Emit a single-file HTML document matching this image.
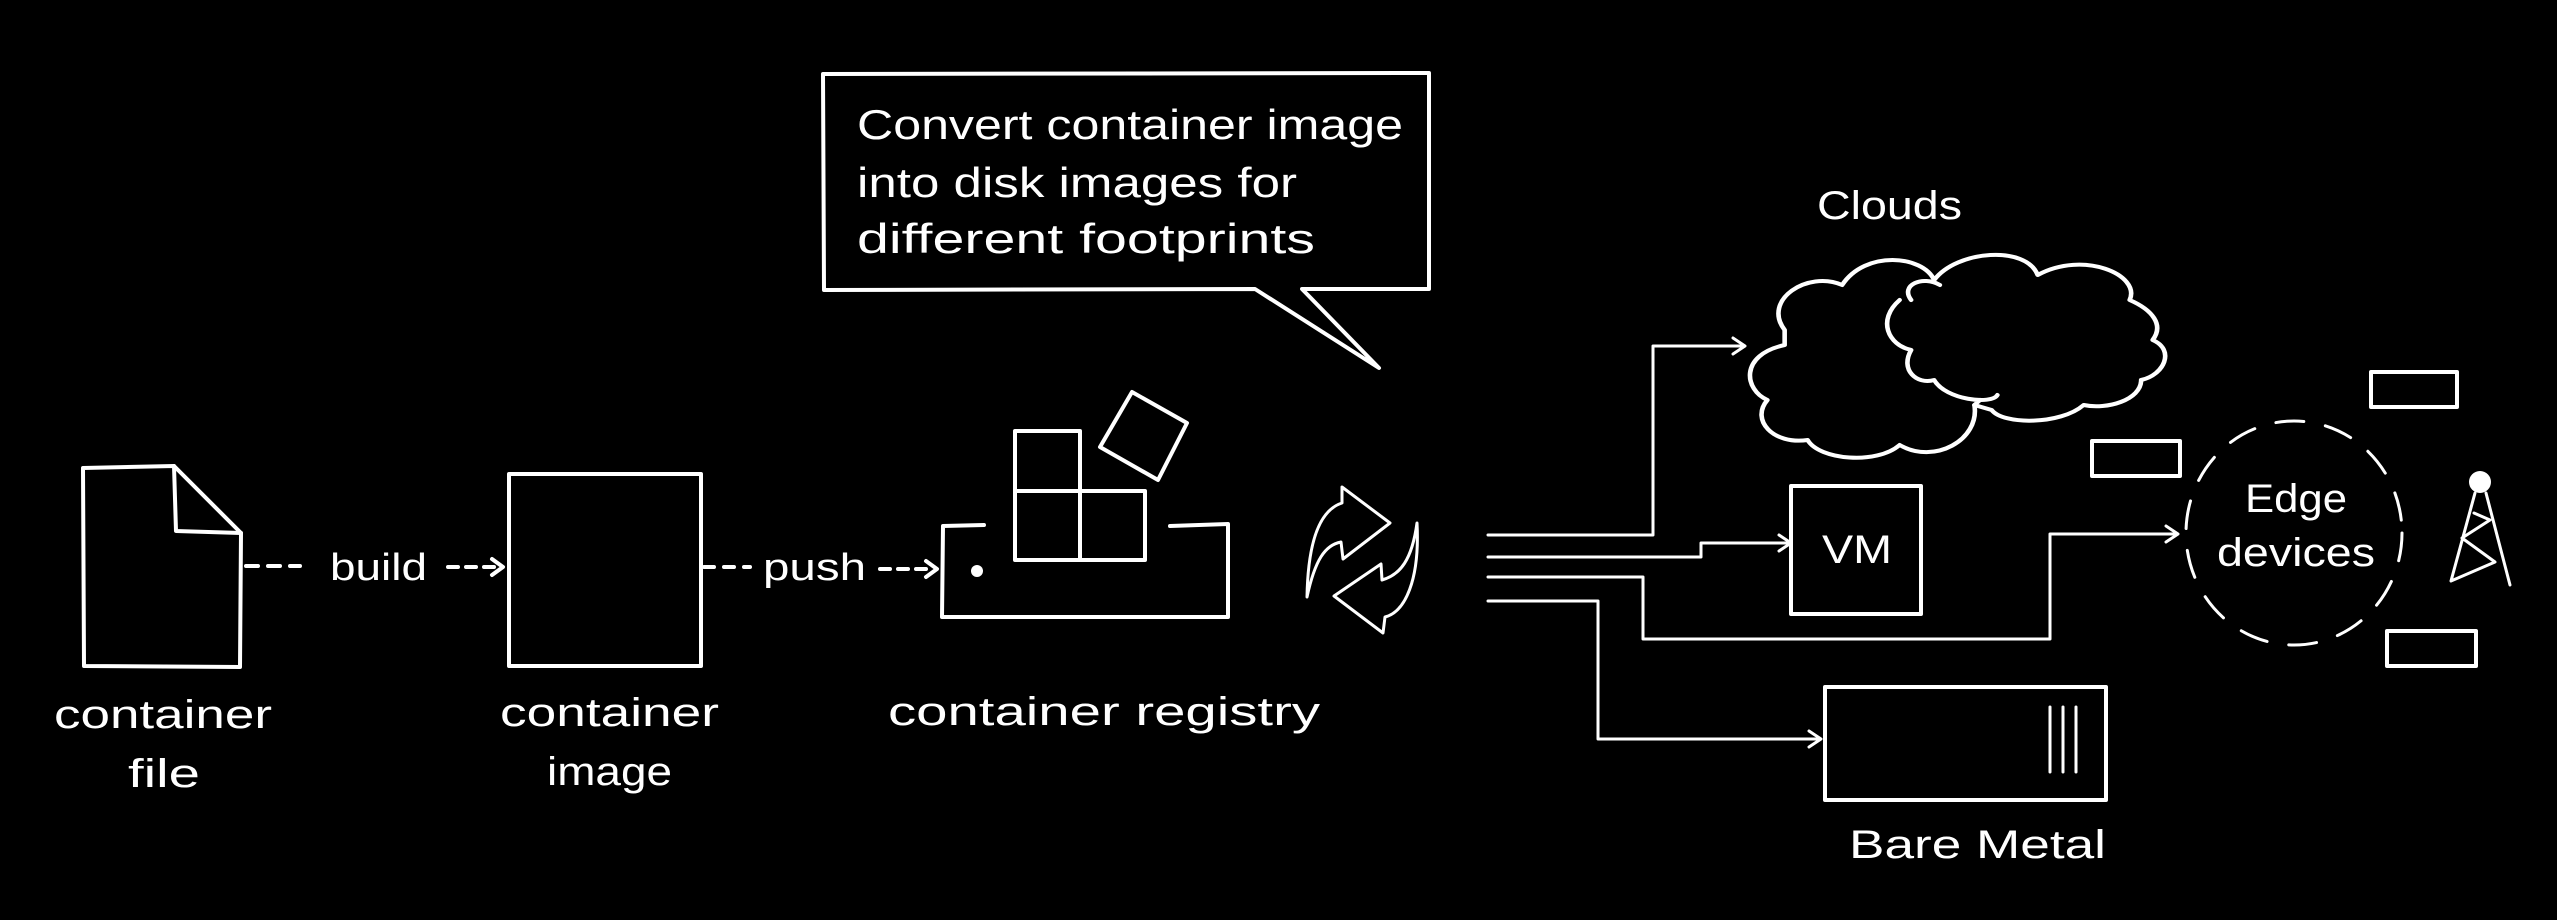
<!DOCTYPE html>
<html><head><meta charset="utf-8"><style>
html,body{margin:0;padding:0;background:#000;}
svg{display:block;}
text{font-family:"Liberation Sans",sans-serif;fill:#fff;}
</style></head><body>
<svg width="2557" height="920" viewBox="0 0 2557 920" xmlns="http://www.w3.org/2000/svg">
<rect width="2557" height="920" fill="#000"/>
<g fill="none" stroke="#fff" stroke-width="4" stroke-linecap="round" stroke-linejoin="round">
<!-- container file -->
<path d="M83,468 L174,466 L241,533 L240,667 L84,666 Z"/>
<path d="M174,466 L176,531 L241,533"/>
<!-- build arrow -->
<path d="M246,566 L300,566" stroke-dasharray="12,10"/>
<path d="M448,567 L500,567" stroke-dasharray="10,8"/>
<path d="M492,559 L503,567 L492,575"/>
<!-- container image -->
<rect x="509" y="474" width="192" height="192"/>
<!-- push arrow -->
<path d="M704,567 L750,567" stroke-dasharray="10,10"/>
<path d="M880,569 L934,569" stroke-dasharray="10,8"/>
<path d="M926,561 L937,569 L926,577"/>
<!-- registry tray -->
<path d="M984,525 L943,526 L942,617 L1228,617 L1228,524 L1170,526"/>
<!-- cubes -->
<rect x="1015" y="431" width="65" height="60"/>
<rect x="1015" y="491" width="65" height="69"/>
<rect x="1080" y="491" width="65" height="69"/>
<path d="M1132,392 L1187,423 L1158,480 L1100,447 Z"/>
<!-- refresh -->
<path d="M1307,597 C1308,540 1320,510 1342,503 L1342,487 L1390,523 L1343,559 L1341,542 C1325,545 1315,560 1307,597 Z" stroke-width="3"/>
<path d="M1417,523 C1420,580 1405,612 1385,617 L1383,633 L1334,596 L1381,564 L1382,580 C1400,575 1412,560 1417,523 Z" stroke-width="3"/>
<!-- callout -->
<path d="M823,74 L1429,73 L1429,289 L1302,289 L1379,368 L1255,289 L824,290 Z"/>
<!-- connectors -->
<g stroke-width="3">
<path d="M1488,535 L1653,535 L1653,346 L1742,346"/>
<path d="M1733,338 L1745,346 L1733,354"/>
<path d="M1488,557 L1701,557 L1701,543 L1788,543"/>
<path d="M1779,535 L1791,543 L1779,551"/>
<path d="M1488,577 L1643,577 L1643,639 L2050,639 L2050,534 L2175,534"/>
<path d="M2166,526 L2178,534 L2166,542"/>
<path d="M1488,601 L1598,601 L1598,739 L1818,739"/>
<path d="M1809,731 L1821,739 L1809,747"/>
</g>
<!-- cloud -->
<g transform="translate(1749,0) scale(1.15,1) translate(-1749,0)">
<path d="M1780,330 C1760,300 1800,270 1830,285 C1850,250 1900,255 1910,280 C1930,250 1990,245 2000,275 C2040,250 2090,275 2080,300 C2100,310 2110,325 2100,340 C2120,350 2110,375 2090,380 C2090,400 2060,410 2040,405 C2020,425 1970,425 1960,410 L1945,405 C1950,440 1910,465 1880,445 C1860,465 1810,460 1800,440 C1770,445 1750,420 1765,400 C1745,390 1740,355 1780,345 Z"/>
<path d="M1890,300 C1880,285 1900,275 1915,285 M1880,300 C1860,320 1870,345 1890,350 C1880,370 1895,385 1910,380 C1920,400 1960,405 1965,395 M1945,405 L1950,400"/>
</g>
<!-- VM -->
<rect x="1791" y="486" width="130" height="128"/>
<!-- Bare metal -->
<rect x="1825" y="687" width="281" height="113"/>
<path d="M2050,707 L2050,772 M2063,707 L2063,772 M2076,707 L2076,772" stroke-width="3"/>
<!-- edge dashed circle -->
<ellipse cx="2294" cy="533" rx="108" ry="112" stroke-width="3" stroke-dasharray="28,22"/>
<!-- small rects -->
<rect x="2371" y="372" width="86" height="35"/>
<rect x="2092" y="441" width="88" height="35"/>
<rect x="2387" y="631" width="89" height="35"/>
<!-- tower -->
<path d="M2475,493 L2451,581 M2486,493 L2510,585 M2451,581 L2495,562 L2462,538 L2490,520 L2474,513" stroke-width="3"/>
</g>
<circle cx="2480" cy="482" r="11" fill="#fff"/>
<circle cx="977" cy="571" r="6" fill="#fff"/>
<!-- texts -->
<text x="330" y="580" font-size="38" textLength="97" lengthAdjust="spacingAndGlyphs">build</text>
<text x="763" y="580" font-size="38" textLength="103" lengthAdjust="spacingAndGlyphs">push</text>
<text x="54" y="728" font-size="40" textLength="218" lengthAdjust="spacingAndGlyphs">container</text>
<text x="128" y="787" font-size="40" textLength="72" lengthAdjust="spacingAndGlyphs">file</text>
<text x="500" y="726" font-size="40" textLength="219" lengthAdjust="spacingAndGlyphs">container</text>
<text x="547" y="785" font-size="40" textLength="125" lengthAdjust="spacingAndGlyphs">image</text>
<text x="888" y="725" font-size="40" textLength="432" lengthAdjust="spacingAndGlyphs">container registry</text>
<text x="857" y="139" font-size="42" textLength="546" lengthAdjust="spacingAndGlyphs">Convert container image</text>
<text x="857" y="197" font-size="42" textLength="440" lengthAdjust="spacingAndGlyphs">into disk images for</text>
<text x="857" y="253" font-size="42" textLength="458" lengthAdjust="spacingAndGlyphs">different footprints</text>
<text x="1817" y="219" font-size="40" textLength="145" lengthAdjust="spacingAndGlyphs">Clouds</text>
<text x="1822" y="563" font-size="40" textLength="70" lengthAdjust="spacingAndGlyphs">VM</text>
<text x="2245" y="512" font-size="40" textLength="102" lengthAdjust="spacingAndGlyphs">Edge</text>
<text x="2217" y="566" font-size="40" textLength="158" lengthAdjust="spacingAndGlyphs">devices</text>
<text x="1849" y="858" font-size="40" textLength="257" lengthAdjust="spacingAndGlyphs">Bare Metal</text>
</svg>
</body></html>
